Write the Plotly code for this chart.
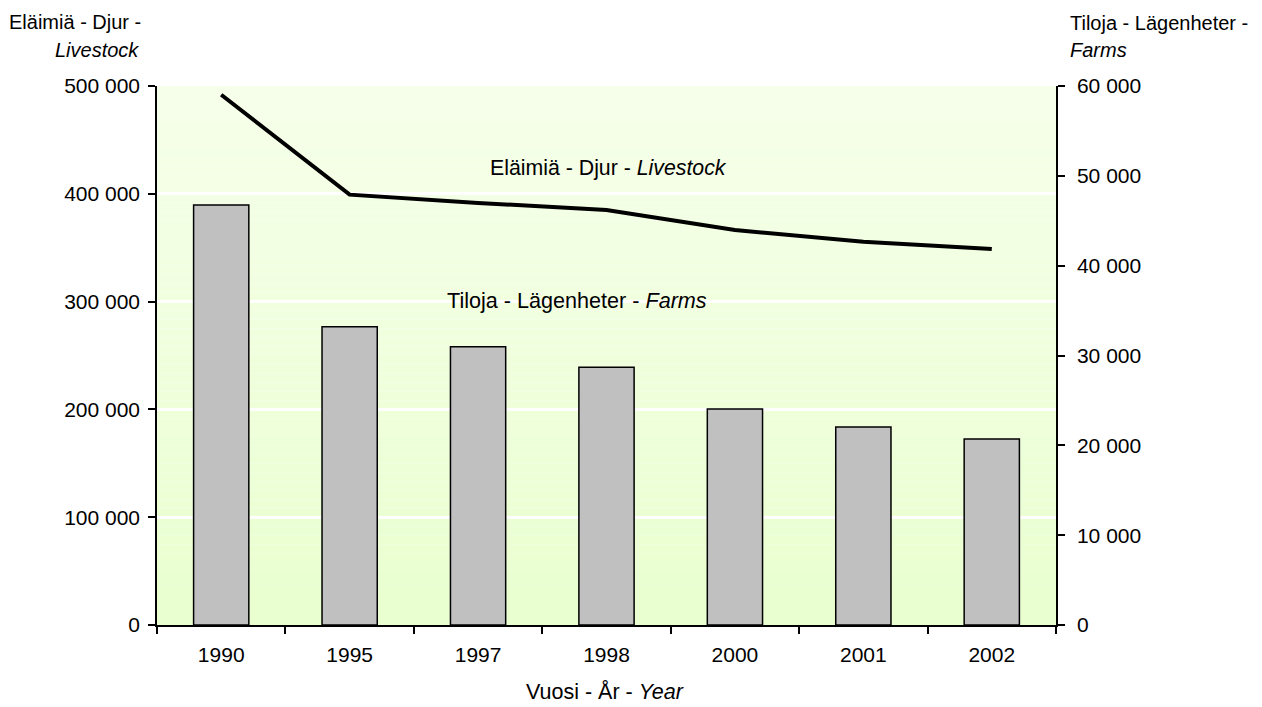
import plotly.graph_objects as go

years = ["1990", "1995", "1997", "1998", "2000", "2001", "2002"]
livestock = [491900, 399200, 391500, 385000, 366400, 355600, 348800]
farms = [46750, 33200, 30980, 28690, 24050, 22040, 20700]

FONT = "Liberation Sans, Arial, sans-serif"
FS_TICK = 21

# page body has an 8px margin; target plot area in window pixels
OFF = 8
PL, PR, PT, PB = 157, 1056, 86, 625
WIN_W, WIN_H = 1262, 707
W, H = WIN_W - OFF, WIN_H - OFF
L, T = PL - OFF, PT - OFF
R, B = WIN_W - PR, WIN_H - PB


def py(ypx):
    return (PB - ypx) / (PB - PT)


def px(xpx):
    return (xpx - PL) / (PR - PL)


fig = go.Figure()
fig.add_trace(go.Bar(
    x=years, y=farms, yaxis="y2", width=0.43,
    marker=dict(color="#C0C0C0", line=dict(color="black", width=1.5)),
    showlegend=False, hoverinfo="skip"))
fig.add_trace(go.Scatter(
    x=years, y=livestock, mode="lines", yaxis="y",
    line=dict(color="black", width=4),
    showlegend=False, hoverinfo="skip"))

# gradient plot background
shapes = []
n = 60
top = (246, 255, 234)
bot = (233, 255, 207)
for i in range(n):
    t = i / (n - 1)
    c = tuple(round(top[k] + (bot[k] - top[k]) * t) for k in range(3))
    shapes.append(dict(type="rect", xref="paper", yref="paper",
                       x0=0, x1=1, y0=1 - (i + 1) / n, y1=1 - i / n,
                       fillcolor="rgb(%d,%d,%d)" % c, line=dict(width=0),
                       layer="between"))

ann = [
    dict(text="Eläimiä - Djur -", x=px(143), y=py(22), xanchor="right", size=20),
    dict(text="<i>Livestock</i>", x=px(141), y=py(50), xanchor="right", size=20),
    dict(text="Tiloja - Lägenheter -", x=px(1068), y=py(23), xanchor="left", size=20),
    dict(text="<i>Farms</i>", x=px(1068), y=py(50), xanchor="left", size=20),
    dict(text="Vuosi - År - <i>Year</i>", x=px(605), y=py(692), xanchor="center", size=21.5),
    dict(text="Eläimiä - Djur - <i>Livestock</i>", x=px(608), y=py(168), xanchor="center", size=21.3),
    dict(text="Tiloja - Lägenheter - <i>Farms</i>", x=px(577), y=py(300), xanchor="center", size=21.6),
]
annotations = []
for a in ann:
    s = a.pop("size")
    a.update(xref="paper", yref="paper", yanchor="middle", showarrow=False,
             font=dict(family=FONT, size=s, color="black"))
    annotations.append(a)

fig.update_layout(
    width=W, height=H,
    margin=dict(l=L, r=R, t=T, b=B),
    paper_bgcolor="white",
    plot_bgcolor="rgba(0,0,0,0)",
    separators=", ",
    font=dict(family=FONT, size=FS_TICK, color="black"),
    shapes=shapes,
    annotations=annotations,
    xaxis=dict(type="category", showline=True, linecolor="black", linewidth=1.5,
               ticks="outside", tickson="boundaries", ticklen=7, tickcolor="black",
               tickwidth=1.5, showgrid=False, ticklabelstandoff=10),
    yaxis=dict(range=[0, 500000], dtick=100000, tickformat=",d",
               showline=True, linecolor="black", linewidth=1.5,
               ticks="outside", ticklen=7, tickcolor="black", tickwidth=1.5,
               showgrid=True, gridcolor="white", gridwidth=3, zeroline=False,
               ticklabelstandoff=4),
    yaxis2=dict(range=[0, 60000], dtick=10000, tickformat=",d", overlaying="y",
                side="right", showline=True, linecolor="black", linewidth=1.5,
                ticks="outside", ticklen=7, tickcolor="black", tickwidth=1.5,
                showgrid=False, zeroline=False, ticklabelstandoff=8),
)

fig.write_html("out.html")
